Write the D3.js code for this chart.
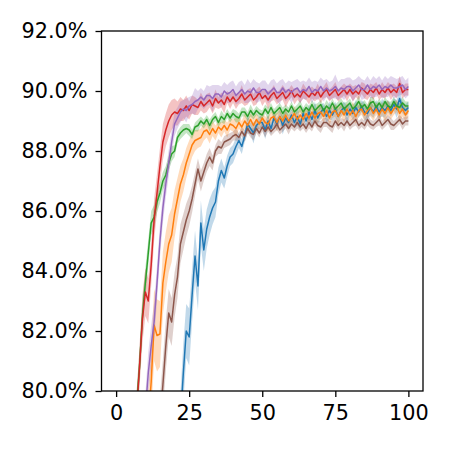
<!DOCTYPE html>
<html><head><meta charset="utf-8">
<script src="https://cdn.jsdelivr.net/npm/d3@7"></script>
<style>body{margin:0;background:#fff;} svg{display:block;}</style>
</head><body>
<script>
// ---- data ----
const steps = d3.range(0, 101);
const xTicks = [0, 25, 50, 75, 100];
const yTicks = [80, 82, 84, 86, 88, 90, 92];
const seriesNames = ["blue", "orange", "green", "red", "purple", "brown"];
const seriesColors = ["#1f77b4", "#ff7f0e", "#2ca02c", "#d62728", "#9467bd", "#8c564b"];

const blueMean = [
 40,43,46,49,52,55,58,61,63,65,
 67,69,70.5,72,73.5,75,76,77,77.5,78,
 78.5,77.5,79.0,80.6,82.0,81.8,83.2,84.5,83.5,85.6,
 84.7,85.4,85.8,86.1,86.3,87.0,87.35,87.1,87.5,87.8,
 87.9,88.15,88.35,88.15,88.5,88.9,88.75,88.6,88.85,88.95,
 88.95,88.7,89.0,88.75,89.1,88.9,89.15,88.85,89.1,88.95,
 89.2,88.95,89.15,88.9,89.25,89.0,89.3,89.05,89.35,89.1,
 89.3,89.4,89.15,89.35,89.2,89.4,89.15,89.35,89.45,89.2,
 89.4,89.25,89.45,89.3,89.5,89.3,89.25,89.45,89.3,89.5,
 89.3,89.45,89.35,89.5,89.35,89.55,89.4,89.75,89.45,89.35,89.45];
const orangeMean = [
 40,45,50,55,60,64,68,71,74,76,
 77.5,79,80.3,82.2,81.85,81.9,83.6,84.3,84.9,85.2,
 85.9,86.4,86.9,87.2,87.6,87.9,88.2,88.35,88.4,88.45,
 88.65,88.7,88.55,88.75,88.6,88.8,88.7,88.85,88.7,88.9,
 88.85,88.75,88.95,88.8,89.0,88.85,89.05,88.85,89.05,88.9,
 89.1,88.95,88.9,89.1,89.15,88.95,89.15,89.0,89.2,89.0,
 89.1,89.25,89.05,89.2,89.05,89.25,89.1,89.3,89.1,89.25,
 89.3,89.15,89.35,89.1,89.3,89.35,89.15,89.35,89.2,89.4,
 89.2,89.35,89.15,89.35,89.4,89.2,89.35,89.45,89.25,89.4,
 89.2,89.4,89.25,89.45,89.25,89.4,89.5,89.25,89.4,89.2,89.35];
const greenMean = [
 50,55,60,65,70,74,77,79.5,80.8,82.5,
 83.6,84.6,85.6,85.8,86.3,86.6,87.0,87.2,87.6,87.9,
 88.0,88.45,88.6,88.7,88.75,88.7,88.55,88.8,88.85,89.0,
 88.9,89.05,88.85,89.05,89.15,88.95,89.15,89.05,89.25,89.1,
 89.25,89.15,89.1,89.3,89.3,89.15,89.35,89.2,89.35,89.25,
 89.2,89.4,89.25,89.45,89.25,89.35,89.45,89.25,89.4,89.3,
 89.5,89.3,89.4,89.5,89.3,89.45,89.35,89.55,89.35,89.45,
 89.55,89.35,89.5,89.4,89.6,89.4,89.5,89.6,89.4,89.5,
 89.6,89.4,89.5,89.65,89.45,89.55,89.4,89.6,89.65,89.45,
 89.6,89.45,89.65,89.5,89.45,89.65,89.5,89.45,89.6,89.5,89.5];
const redMean = [
 50,55,60,65,70,74,77,79.3,80.8,82.4,
 83.3,83.0,84.2,85.7,86.6,87.5,88.3,88.7,89.0,89.2,
 89.3,89.25,89.4,89.35,89.5,89.35,89.55,89.5,89.45,89.65,
 89.5,89.6,89.7,89.5,89.75,89.6,89.7,89.55,89.8,89.65,
 89.8,89.65,89.75,89.9,89.7,89.8,89.9,89.7,89.8,89.95,
 89.75,89.85,89.7,89.85,89.95,89.75,89.85,89.95,89.75,89.85,
 90.0,89.8,89.9,89.8,90.0,89.9,89.8,89.95,89.85,90.0,
 89.8,89.95,90.05,89.85,89.95,90.05,89.85,89.95,90.05,89.9,
 90.05,89.9,90.0,89.9,90.1,90.0,89.9,90.05,89.95,90.1,
 89.9,90.05,89.95,90.1,89.95,90.05,89.95,90.25,89.95,90.05,90.05];
const purpleMean = [
 40,45,50,55,60,64,68,71,74,77,
 79.3,80.6,81.5,82.3,83.6,85.0,86.1,86.9,87.6,88.3,
 88.9,89.1,89.3,89.4,89.35,89.5,89.55,89.65,89.7,89.8,
 89.7,89.85,89.85,89.75,89.9,89.9,89.8,90.0,89.9,89.95,
 90.05,89.85,89.95,90.05,89.9,90.0,89.95,90.1,89.95,89.95,
 90.05,90.05,89.9,90.0,90.1,89.95,89.95,90.1,89.95,90.05,
 89.95,90.05,90.1,89.95,90.05,90.0,90.15,89.95,90.05,90.0,
 90.15,90.0,90.1,90.0,90.05,90.15,90.0,90.1,90.05,90.15,
 90.15,90.0,90.1,90.2,90.05,90.05,90.2,90.05,90.15,90.1,
 90.2,90.05,90.15,90.1,90.2,90.1,90.1,90.15,90.2,90.05,90.15];
const brownMean = [
 40,44,48,52,56,60,63,66,69,71,
 73,74.5,76,77,78,79,80.2,81.5,82.6,82.3,
 83.2,83.8,84.9,85.3,85.7,86.0,86.4,86.9,87.4,87.0,
 87.3,87.6,87.8,87.6,88.0,88.15,88.1,88.3,88.35,88.4,
 88.5,88.55,88.45,88.65,88.5,88.75,88.6,88.55,88.75,88.6,
 88.8,88.65,88.8,88.65,88.75,88.9,88.7,88.8,88.9,88.75,
 88.9,88.8,88.95,88.8,88.9,88.75,88.95,88.8,89.0,88.85,
 88.8,88.95,88.95,88.85,88.8,89.0,88.85,88.95,88.85,89.0,
 88.85,88.95,89.05,88.85,88.95,88.85,89.05,88.9,88.85,88.95,
 89.05,88.85,88.95,89.05,88.9,88.85,88.95,89.05,88.9,89.0,89.0];

// half-width of the shaded confidence band
const blueBand = [
 .9,.9,.9,.9,.9,.9,.9,.9,.9,.9,
 .9,.9,.9,.9,.9,.9,.9,.9,.9,.9,
 .9,.9,.9,1.0,.9,.95,.9,.85,.8,.75,
 .7,.65,.6,.55,.5,.45,.4,.35,.35,.3,
 .3,.3,.25,.25,.2,.3,.2,.35,.2,.2,
 .2,.3,.2,.2,.25,.2,.2,.3,.25,.2,
 .2,.2,.3,.2,.2,.2,.25,.2,.3,.2,
 .25,.2,.2,.3,.2,.25,.2,.2,.2,.3,
 .2,.2,.25,.2,.2,.3,.2,.25,.2,.2,
 .2,.3,.25,.2,.2,.2,.3,.3,.2,.2,.2];
const orangeBand = [
 1.0,1.0,1.0,1.0,1.0,1.0,1.0,1.0,1.0,1.0,
 1.0,1.0,1.1,1.2,1.2,1.1,1.05,1.0,.95,.9,
 .8,.7,.6,.55,.5,.45,.4,.35,.3,.3,
 .3,.25,.3,.25,.25,.2,.25,.2,.25,.2,
 .2,.35,.2,.2,.25,.2,.2,.3,.2,.2,
 .2,.2,.25,.2,.2,.3,.25,.2,.2,.2,
 .2,.25,.2,.3,.2,.2,.25,.2,.2,.3,
 .2,.2,.2,.25,.2,.2,.3,.2,.25,.2,
 .2,.3,.25,.2,.2,.2,.2,.3,.25,.2,
 .2,.2,.3,.25,.2,.2,.2,.3,.25,.2,.2];
const greenBand = [
 .5,.5,.5,.5,.5,.5,.5,.5,.55,.55,
 .5,.45,.4,.4,.35,.35,.3,.3,.25,.25,
 .2,.2,.2,.2,.15,.2,.15,.15,.2,.15,
 .15,.15,.2,.15,.15,.15,.2,.15,.15,.15,
 .15,.2,.15,.15,.15,.15,.2,.15,.15,.15,
 .15,.15,.2,.15,.15,.15,.15,.2,.15,.15,
 .15,.15,.15,.2,.15,.15,.15,.15,.2,.15,
 .15,.15,.2,.15,.15,.15,.15,.15,.2,.15,
 .15,.15,.15,.2,.15,.15,.15,.2,.15,.15,
 .15,.15,.15,.15,.2,.15,.15,.15,.2,.15,.15];
const redBand = [
 .6,.6,.6,.6,.6,.6,.6,.6,.7,.8,
 .8,.75,.7,.7,.65,.6,.6,.55,.55,.5,
 .45,.4,.4,.35,.35,.3,.3,.3,.25,.3,
 .25,.3,.25,.25,.3,.2,.25,.3,.2,.25,
 .2,.25,.2,.3,.2,.25,.2,.2,.25,.2,
 .25,.2,.3,.2,.25,.2,.2,.25,.3,.2,
 .2,.25,.2,.2,.25,.2,.25,.2,.2,.25,
 .2,.2,.25,.2,.2,.25,.2,.2,.2,.25,
 .2,.25,.2,.2,.2,.25,.2,.2,.25,.2,
 .2,.25,.2,.2,.25,.2,.2,.25,.2,.2,.2];
const purpleBand = [
 .6,.6,.6,.6,.6,.6,.6,.6,.6,.6,
 .6,.7,.7,.65,.6,.55,.5,.45,.45,.4,
 .4,.35,.35,.3,.4,.3,.3,.45,.3,.3,
 .3,.35,.3,.45,.3,.3,.35,.3,.3,.35,
 .3,.3,.35,.3,.3,.4,.3,.3,.35,.3,
 .3,.3,.3,.35,.3,.3,.4,.3,.3,.3,
 .35,.3,.3,.35,.3,.3,.3,.35,.3,.3,
 .3,.35,.3,.3,.3,.4,.3,.3,.35,.3,
 .3,.35,.3,.3,.35,.3,.3,.3,.35,.3,
 .3,.3,.35,.3,.3,.35,.3,.3,.3,.3,.3];
const brownBand = [
 .8,.8,.8,.8,.8,.8,.8,.8,.8,.8,
 .8,.8,.8,.8,.8,.8,.85,.85,.8,.8,
 .75,.7,.65,.6,.55,.5,.45,.4,.35,.35,
 .3,.3,.3,.25,.2,.25,.2,.2,.2,.2,
 .15,.2,.15,.15,.2,.15,.15,.2,.15,.15,
 .15,.2,.15,.15,.15,.2,.15,.15,.15,.2,
 .15,.15,.2,.15,.15,.15,.2,.15,.15,.15,
 .2,.15,.15,.15,.2,.15,.15,.15,.2,.15,
 .15,.15,.2,.15,.15,.15,.2,.15,.15,.15,
 .2,.15,.15,.15,.2,.15,.15,.15,.2,.15,.15];

const means = [blueMean, orangeMean, greenMean, redMean, purpleMean, brownMean];
const bands = [blueBand, orangeBand, greenBand, redBand, purpleBand, brownBand];

// ---- layout ----
const W = 450, H = 450;
const L = 101.5, R = 423, T = 31, B = 391;
const x = d3.scaleLinear().domain([-5, 105]).range([L, R]);
const y = d3.scaleLinear().domain([80, 92]).range([B, T]);

const svg = d3.select("body").append("svg").attr("width", W).attr("height", H);
svg.append("defs").append("clipPath").attr("id", "clip")
  .append("rect").attr("x", L).attr("y", T).attr("width", R - L).attr("height", B - T);

const plot = svg.append("g").attr("clip-path", "url(#clip)");

const series = seriesNames.map((n, i) => ({
  name: n, color: seriesColors[i],
  pts: steps.map((s, k) => ({s, m: means[i][k], b: bands[i][k]}))
}));

const area = d3.area().x(d => x(d.s)).y0(d => y(d.m - d.b)).y1(d => y(d.m + d.b));
const line = d3.line().x(d => x(d.s)).y(d => y(d.m));

plot.selectAll("path.band").data(series).join("path")
  .attr("class", "band").attr("d", d => area(d.pts))
  .attr("fill", d => d.color).attr("fill-opacity", 0.28).attr("stroke", "none");
plot.selectAll("path.mean").data(series).join("path")
  .attr("class", "mean").attr("d", d => line(d.pts))
  .attr("fill", "none").attr("stroke", d => d.color).attr("stroke-width", 1.5)
  .attr("stroke-linejoin", "round").attr("stroke-linecap", "butt");

// ---- axes ----
const fmt = d => d.toFixed(1) + "%";
const yAxis = d3.axisLeft(y).tickValues(yTicks).tickFormat(fmt).tickSize(6).tickPadding(8);
const xAxis = d3.axisBottom(x).tickValues(xTicks).tickFormat(d3.format("d")).tickSize(6).tickPadding(8);

const gy = svg.append("g").attr("transform", `translate(${L},0)`).call(yAxis);
const gx = svg.append("g").attr("transform", `translate(0,${B})`).call(xAxis);
[gx, gy].forEach(g => {
  g.select(".domain").remove();
  g.selectAll(".tick line").attr("stroke", "#000").attr("stroke-width", 1.3);
  g.selectAll(".tick text").attr("fill", "#000")
    .style("font-family", "'DejaVu Sans', sans-serif").style("font-size", "20.8px");
});

svg.append("rect").attr("x", L).attr("y", T).attr("width", R - L).attr("height", B - T)
  .attr("fill", "none").attr("stroke", "#000").attr("stroke-width", 1.3);
</script>
</body></html>
